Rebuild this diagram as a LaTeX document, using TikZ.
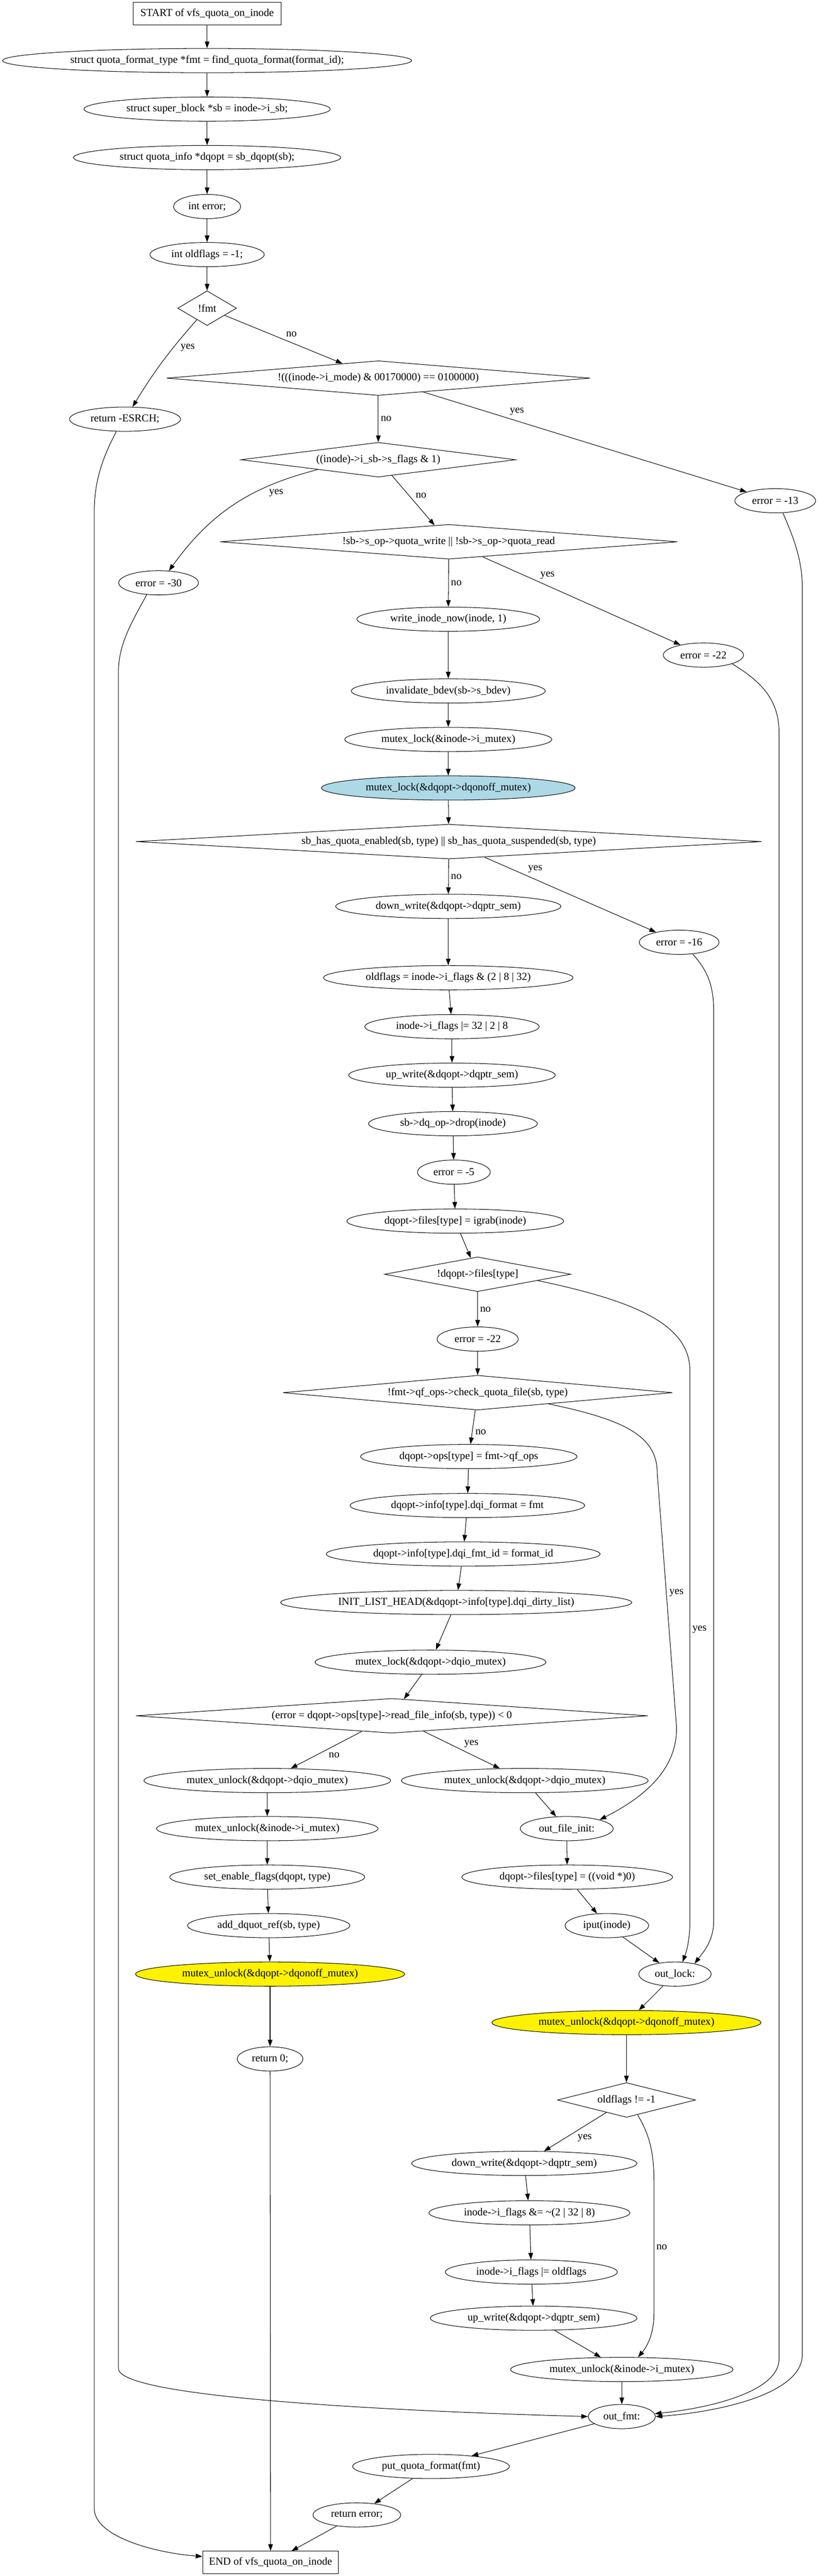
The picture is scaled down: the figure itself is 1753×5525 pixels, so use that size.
\documentclass[tikz,border=0pt]{standalone}
\usepackage{fontspec}
\setmainfont{Liberation Serif}
\usepackage{tikz}
\usetikzlibrary{arrows.meta,shapes.geometric}
\definecolor{lightblue}{HTML}{ADD8E6}

\begin{document}
\begin{tikzpicture}[x=0.7pt,y=-0.7pt,->,>={Triangle[length=10pt,width=7pt]},auto,thick,
	every node/.style={font=\fontsize{16}{19}\selectfont},
	term/.style={rectangle,draw,inner sep=0pt,minimum width=#1*0.7pt,minimum height=34pt},
	stmt/.style={ellipse,draw,inner sep=0pt,minimum width=#1*0.7pt,minimum height=36.4pt},
	cond/.style={diamond,draw,inner sep=0pt,aspect=14,minimum width=#1*0.7pt,minimum height=52pt}]
			\path[use as bounding box] (0,0) rectangle (1753,5525);

			\node[term=317] (0) at (444,29) {START of vfs\_quota\_on\_inode};
			\node[stmt=877] (1) at (444,130) {struct quota\_format\_type *fmt = find\_quota\_format(format\_id);};
			\node[stmt=528] (2) at (444,234) {struct super\_block *sb = inode->i\_sb;};
			\node[stmt=573] (3) at (444,338) {struct quota\_info *dqopt = sb\_dqopt(sb);};
			\node[stmt=144] (4) at (444,443) {int error;};
			\node[stmt=245] (5) at (444,546) {int oldflags = -1;};
			\node[cond=126,aspect=2] (6) at (444,661) {!fmt};
			\node[cond=908] (7) at (811,811) {!(((inode->i\_mode) \& 00170000) == 0100000)};
			\node[stmt=238] (8) at (268,899) {return -ESRCH;};
			\node[cond=589] (9) at (811,986) {((inode)->i\_sb->s\_flags \& 1)};
			\node[stmt=173] (10) at (1662,1074) {error = -13};
			\node[cond=981] (11) at (962,1162) {!sb->s\_op->quota\_write || !sb->s\_op->quota\_read};
			\node[stmt=171] (12) at (340,1250) {error = -30};
			\node[stmt=392] (13) at (961,1328) {write\_inode\_now(inode, 1)};
			\node[stmt=172] (14) at (1508,1405) {error = -22};
			\node[stmt=416] (15) at (961,1482) {invalidate\_bdev(sb->s\_bdev)};
			\node[stmt=444] (16) at (961,1586) {mutex\_lock(\&inode->i\_mutex)};
			\node[stmt=544,fill=lightblue] (17) at (961,1690) {mutex\_lock(\&dqopt->dqonoff\_mutex)};
			\node[cond=1342] (18) at (962,1805) {sb\_has\_quota\_enabled(sb, type) || sb\_has\_quota\_suspended(sb, type)};
			\node[stmt=483] (19) at (961,1944) {down\_write(\&dqopt->dqptr\_sem)};
			\node[stmt=171] (20) at (1456,2021) {error = -16};
			\node[stmt=535] (21) at (961,2097) {oldflags = inode->i\_flags \& (2 | 8 | 32)};
			\node[stmt=374] (22) at (969,2202) {inode->i\_flags |= 32 | 2 | 8};
			\node[stmt=443] (23) at (969,2306) {up\_write(\&dqopt->dqptr\_sem)};
			\node[stmt=362] (24) at (971,2410) {sb->dq\_op->drop(inode)};
			\node[stmt=156] (25) at (973,2514) {error = -5};
			\node[stmt=465] (26) at (976,2619) {dqopt->files[type] = igrab(inode)};
			\node[cond=399,aspect=5] (27) at (1024,2733) {!dqopt->files[type]};
			\node[stmt=174] (28) at (1024,2872) {error = -22};
			\node[cond=835] (29) at (1024,2987) {!fmt->qf\_ops->check\_quota\_file(sb, type)};
			\node[stmt=464] (30) at (1005,3124) {dqopt->ops[type] = fmt->qf\_ops};
			\node[stmt=503] (31) at (1002,3229) {dqopt->info[type].dqi\_format = fmt};
			\node[stmt=587] (32) at (993,3333) {dqopt->info[type].dqi\_fmt\_id = format\_id};
			\node[stmt=753] (33) at (978,3437) {INIT\_LIST\_HEAD(\&dqopt->info[type].dqi\_dirty\_list)};
			\node[stmt=495] (34) at (923,3565) {mutex\_lock(\&dqopt->dqio\_mutex)};
			\node[cond=1098] (35) at (840,3680) {(error = dqopt->ops[type]->read\_file\_info(sb, type)) < 0};
			\node[stmt=529] (36) at (573,3819) {mutex\_unlock(\&dqopt->dqio\_mutex)};
			\node[stmt=529] (37) at (1125,3819) {mutex\_unlock(\&dqopt->dqio\_mutex)};
			\node[stmt=475] (38) at (573,3922) {mutex\_unlock(\&inode->i\_mutex)};
			\node[stmt=199] (39) at (1215,3922) {out\_file\_init:};
			\node[stmt=418] (40) at (573,4026) {set\_enable\_flags(dqopt, type)};
			\node[stmt=452] (41) at (1216,4026) {dqopt->files[type] = ((void *)0)};
			\node[stmt=348] (42) at (576,4130) {add\_dquot\_ref(sb, type)};
			\node[stmt=179] (43) at (1301,4130) {iput(inode)};
			\node[stmt=577,fill=yellow] (44) at (579,4234) {mutex\_unlock(\&dqopt->dqonoff\_mutex)};
			\node[stmt=155] (45) at (1447,4234) {out\_lock:};
			\node[stmt=577,fill=yellow] (46) at (1343,4338) {mutex\_unlock(\&dqopt->dqonoff\_mutex)};
			\node[stmt=141] (47) at (579,4416) {return 0;};
			\node[cond=296,aspect=5] (48) at (1343,4504) {oldflags != -1};
			\node[stmt=483] (49) at (1124,4640) {down\_write(\&dqopt->dqptr\_sem)};
			\node[stmt=431] (50) at (1135,4746) {inode->i\_flags \&= \textasciitilde(2 | 32 | 8)};
			\node[stmt=369] (51) at (1139,4873) {inode->i\_flags |= oldflags};
			\node[stmt=443] (52) at (1144,4972) {up\_write(\&dqopt->dqptr\_sem)};
			\node[stmt=477] (53) at (1333,5082) {mutex\_unlock(\&inode->i\_mutex)};
			\node[stmt=144] (54) at (1333,5183) {out\_fmt:};
			\node[stmt=336] (55) at (924,5290) {put\_quota\_format(fmt)};
			\node[stmt=188] (56) at (765,5394) {return error;};
			\node[term=291] (57) at (580,5496) {END of vfs\_quota\_on\_inode};

			\path
				(0) edge (1)
				(1) edge (2)
				(2) edge (3)
				(3) edge (4)
				(4) edge (5)
				(5) edge (6)
				(6) edge [bend right=5] node[pos=0.25] {yes} (8)
				(6) edge node {no} (7)
				(7) edge node {no} (9)
				(7) edge node[pos=0.26] {yes} (10)
				(9) edge [bend right=20] node[pos=0.28] {yes} (12)
				(9) edge node {no} (11)
				(11) edge node {no} (13)
				(11) edge node[pos=0.28] {yes} (14)
				(13) edge (15)
				(15) edge (16)
				(16) edge (17)
				(17) edge (18)
				(18) edge node {no} (19)
				(18) edge node[pos=0.24] {yes} (20)
				(19) edge (21)
				(21) edge (22)
				(22) edge (23)
				(23) edge (24)
				(24) edge (25)
				(25) edge (26)
				(26) edge (27)
				(27) edge node {no} (28)
				(28) edge (29)
				(29) edge node {no} (30)
				(30) edge (31)
				(31) edge (32)
				(32) edge (33)
				(33) edge (34)
				(34) edge (35)
				(35) edge node {no} (36)
				(35) edge node {yes} (37)
				(36) edge (38)
				(38) edge (40)
				(40) edge (42)
				(42) edge (44)
				(44) edge (47)
				(47) edge (57)
				(37) edge (39)
				(39) edge (41)
				(41) edge (43)
				(43) edge (45)
				(45) edge (46)
				(46) edge (48)
				(48) edge node {yes} (49)
				(49) edge (50)
				(50) edge (51)
				(51) edge (52)
				(52) edge (53)
				(53) edge (54)
				(54) edge (55)
				(55) edge (56)
				(56) edge (57)
			;

			% long jumps to the exit labels
			\draw (8.-125) .. controls (215,990) and (202,1040) .. (202,1100) -- (202,5380) .. controls (202,5440) and (330,5475) .. ([yshift=9pt]57.west);
			\draw (12.-135) .. controls (285,1330) and (254,1380) .. (254,1440) -- (254,5080) .. controls (254,5140) and (800,5170) .. (54.west);
			\draw (14.-17) .. controls (1630,1460) and (1670,1500) .. (1670,1570) -- (1670,5060) .. controls (1670,5130) and (1520,5165) .. (54.5);
			\draw (10.-58) .. controls (1700,1150) and (1720,1200) .. (1720,1260) -- (1720,5050) .. controls (1720,5140) and (1520,5175) .. (54.0);
			\draw (20.-41) .. controls (1515,2080) and (1530,2110) .. (1530,2170) -- (1530,4120) .. controls (1530,4165) and (1505,4190) .. (45.28);
			\draw (27.-6) .. controls (1360,2790) and (1479,2840) .. (1479,2940) -- node[pos=0.47] {yes} (1479,4120) .. controls (1479,4165) and (1470,4190) .. (45.58);
			\draw (29.-9) .. controls (1340,3045) and (1409,3080) .. (1409,3160) -- node {yes} (1450,3700) .. controls (1455,3800) and (1370,3860) .. (39.15);
			\draw (48.-53) .. controls (1390,4575) and (1402,4610) .. (1402,4680) -- node {no} (1402,4960) .. controls (1402,5010) and (1385,5035) .. (53.37);
		\end{tikzpicture}
\end{document}
